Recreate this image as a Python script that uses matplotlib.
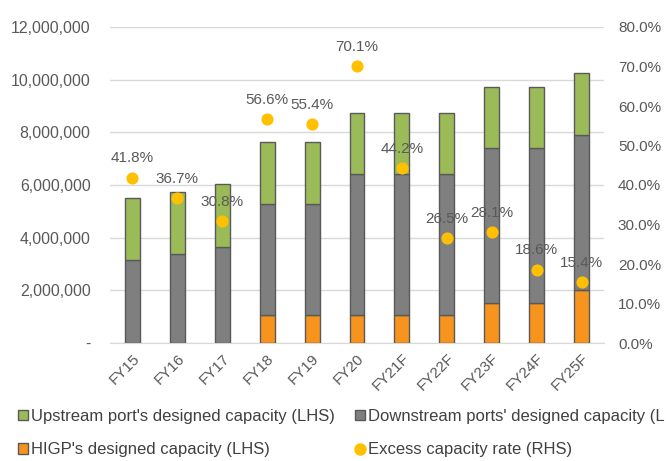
import numpy as np
import matplotlib.pyplot as plt
from matplotlib.ticker import FuncFormatter
from matplotlib.patches import Patch
from matplotlib.lines import Line2D

plt.rcParams['font.family'] = ['Liberation Sans', 'DejaVu Sans']

# data
years = ['FY15', 'FY16', 'FY17', 'FY18', 'FY19', 'FY20',
         'FY21F', 'FY22F', 'FY23F', 'FY24F', 'FY25F']
higp = [0, 0, 0, 1050000, 1050000, 1050000, 1050000, 1050000, 1520000, 1520000, 2020000]
downstream = [3150000, 3380000, 3660000, 4230000, 4230000, 5380000, 5380000, 5380000,
              5890000, 5890000, 5890000]
upstream = [2370000, 2340000, 2360000, 2340000, 2340000, 2310000, 2310000, 2310000,
            2320000, 2320000, 2350000]
excess = [41.8, 36.7, 30.8, 56.6, 55.4, 70.1, 44.2, 26.5, 28.1, 18.6, 15.4]

c_green = '#9BBB59'
c_gray = '#7F7F7F'
c_orange = '#F7941D'
c_dot = '#FFC000'
c_edge = '#595959'
c_text = '#595959'

fig = plt.figure(figsize=(6.66, 4.61), dpi=100)
ax = fig.add_axes([110 / 666, 1 - 343 / 461, 494 / 666, 316 / 461])

x = np.arange(len(years))
w = 0.33
higp = np.array(higp)
downstream = np.array(downstream)
upstream = np.array(upstream)

ax.bar(x, higp, w, color=c_orange, edgecolor=c_edge, linewidth=1, zorder=3)
ax.bar(x, downstream, w, bottom=higp, color=c_gray, edgecolor=c_edge, linewidth=1, zorder=3)
ax.bar(x, upstream, w, bottom=higp + downstream, color=c_green, edgecolor=c_edge,
       linewidth=1, zorder=3)

ax.set_ylim(0, 12000000)
ax.set_xlim(-0.5, len(years) - 0.5)
ax.set_yticks(np.arange(0, 12000001, 2000000))
ax.yaxis.set_major_formatter(FuncFormatter(lambda v, p: '-' if v == 0 else f'{int(v):,}'))
ax.grid(axis='y', color='#D9D9D9', linewidth=1, zorder=0)
ax.set_axisbelow(True)
for s in ['top', 'right', 'left']:
    ax.spines[s].set_visible(False)
ax.spines['bottom'].set_color('#D9D9D9')
ax.tick_params(axis='y', length=0, pad=14, labelsize=11.4, labelcolor=c_text)
ax.set_xticks(x)
ax.set_xticklabels(years, rotation=45, ha='right', rotation_mode='anchor')
ax.tick_params(axis='x', length=0, pad=6, labelsize=11, labelcolor=c_text)

ax2 = ax.twinx()
ax2.scatter(x, excess, s=60, color=c_dot, zorder=5)
for xi, v in zip(x, excess):
    ax2.annotate(f'{v:.1f}%', (xi, v), textcoords='offset points', xytext=(0, 9),
                 ha='center', va='bottom', fontsize=11, color=c_text)
ax2.set_ylim(0, 80)
ax2.set_yticks(np.arange(0, 81, 10))
ax2.yaxis.set_major_formatter(FuncFormatter(lambda v, p: f'{v:.1f}%'))
for s in ax2.spines.values():
    s.set_visible(False)
ax2.tick_params(axis='y', length=0, pad=10, labelsize=11, labelcolor=c_text)

# legend
h_up = Patch(facecolor=c_green, edgecolor=c_edge)
h_down = Patch(facecolor=c_gray, edgecolor=c_edge)
h_higp = Patch(facecolor=c_orange, edgecolor=c_edge)
h_ex = Line2D([], [], marker='o', color=c_dot, linestyle='none', markersize=8)

leg_kw = dict(frameon=False, fontsize=12, handlelength=0.6, handleheight=0.6,
              handletextpad=0.2, labelspacing=1.1, labelcolor='#404040',
              borderaxespad=0, borderpad=0)
fig.legend([h_up, h_higp],
           ["Upstream port's designed capacity (LHS)", "HIGP's designed capacity (LHS)"],
           loc='upper left', bbox_to_anchor=(18 / 666, 1 - 409 / 461), **leg_kw)
fig.legend([h_down, h_ex],
           ["Downstream ports' designed capacity (LHS)", "Excess capacity rate (RHS)"],
           loc='upper left', bbox_to_anchor=(355 / 666, 1 - 409 / 461), **leg_kw)

fig.savefig('out.png', dpi=100)
